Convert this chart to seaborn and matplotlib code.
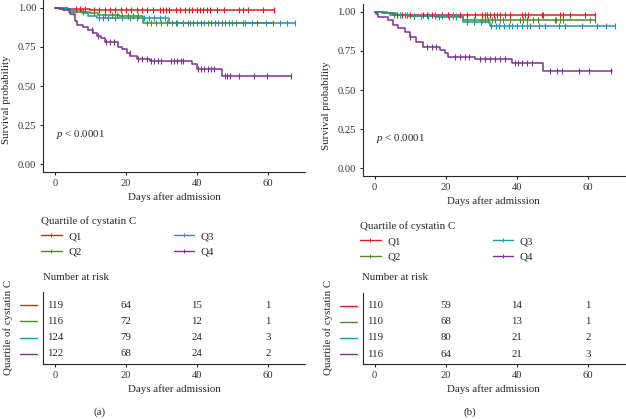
import numpy as np
import pandas as pd
import matplotlib.pyplot as plt
import seaborn as sns
from matplotlib.lines import Line2D

groups = ["Q1", "Q2", "Q3", "Q4"]
colors = ["#E41A1C", "#4D8B2A", "#1B98AE", "#7B3294"]
risk_times = [0, 20, 40, 60]

# ---- panel (a): step times, survival after each step, censor times, last day ----
a_times = {
    "Q1": [3.7, 9.9],
    "Q2": [2.0, 4.0, 10.0, 12.0, 18.0, 24.9],
    "Q3": [2.0, 4.5, 7.5, 9.3, 11.7, 32.0],
    "Q4": [1.0, 2.3, 4.2, 5.6, 6.1, 8.0, 9.4, 10.7, 11.7, 13.1, 14.1, 17.8,
           18.8, 20.2, 21.1, 23.0, 26.8, 38.5, 40.0, 47.0],
}
a_surv = {
    "Q1": [0.991, 0.983],
    "Q2": [0.991, 0.974, 0.965, 0.956, 0.947, 0.905],
    "Q3": [0.992, 0.983, 0.966, 0.950, 0.937, 0.905],
    "Q4": [0.990, 0.984, 0.960, 0.918, 0.890, 0.876, 0.855, 0.836, 0.820, 0.807,
           0.783, 0.752, 0.737, 0.710, 0.690, 0.675, 0.662, 0.641, 0.611, 0.566],
}
a_end = {"Q1": 61.7, "Q2": 61.3, "Q3": 67.6, "Q4": 66.5}
a_cens = {
    "Q1": [6, 7, 8.5, 11, 12.5, 14, 15.5, 17, 18.5, 20, 21.5, 23, 24.5, 26, 27.5,
           29.5, 30.5, 31.2, 32, 34, 35.3, 36.7, 37.7, 38.6, 40, 40.8, 41.8, 42.7,
           43.7, 45.6, 47.5, 51.7, 53.1, 54.5, 58.7, 61.7],
    "Q2": [5, 8, 11, 14, 16, 17.5, 19, 20.5, 22, 23.5, 26, 27, 28.5, 30, 31.5, 33,
           34.5, 36, 37.5, 39, 41, 43, 45, 47, 49, 51, 53, 57, 61.3],
    "Q3": [12.5, 13.5, 15, 17, 19, 21, 23, 25, 26.5, 28, 29.5, 31, 34, 36, 38, 40,
           42, 44, 46, 48, 50, 53.5, 55.5, 59.5, 63.5, 65.5, 67.6],
    "Q4": [10.5, 12, 14.5, 15.5, 16.5, 21, 23.5, 24.5, 26, 27, 28, 29, 30, 32.6,
           33.5, 34.5, 35.4, 36.2, 40.2, 41.2, 42.1, 43, 44, 44.9, 47.8, 48.6,
           49.4, 51.7, 56, 59.7, 66.5],
}
a_risk = {"Q1": [119, 64, 15, 1], "Q2": [116, 72, 12, 1],
          "Q3": [124, 79, 24, 3], "Q4": [122, 68, 24, 2]}

# ---- panel (b) ----
b_times = {
    "Q1": [2.5, 5.2],
    "Q2": [2.0, 4.3, 9.0, 17.0, 24.8],
    "Q3": [3.5, 6.0, 10.0, 24.8, 32.3],
    "Q4": [0.5, 1.0, 3.8, 5.2, 6.6, 8.4, 9.8, 11.7, 13.5, 18.3, 19.7, 20.6,
           28.2, 38.5, 47.4],
}
b_surv = {
    "Q1": [0.991, 0.981],
    "Q2": [0.991, 0.982, 0.973, 0.964, 0.950],
    "Q3": [0.990, 0.981, 0.972, 0.938, 0.912],
    "Q4": [0.987, 0.970, 0.949, 0.917, 0.895, 0.874, 0.842, 0.810, 0.778,
           0.756, 0.735, 0.713, 0.697, 0.673, 0.623],
}
b_end = {"Q1": 61.9, "Q2": 62.0, "Q3": 67.7, "Q4": 66.8}
b_cens = {
    "Q1": [6.2, 7.6, 9, 9.9, 13.7, 14.6, 16, 16.9, 18.8, 20.7, 22.1, 24, 25.9, 28.2,
           30.1, 31, 31.7, 32.4, 33.6, 34.3, 35.3, 36.7, 38.1, 41.4, 42.3, 43.2,
           47, 47.4, 52.1, 53, 54.9, 59.1, 61.9],
    "Q2": [5.5, 7, 8.5, 11, 13, 15, 18, 21, 23, 26, 28, 30.1, 31, 32, 33, 33.9,
           35.3, 36.2, 38.1, 40.9, 41.8, 42.8, 44.6, 46, 50.7, 51.1, 52.1, 53,
           60.5, 62],
    "Q3": [7, 9, 11, 13, 15, 17, 19, 21, 22, 23, 26, 28, 30, 32.6, 34, 35, 36.3,
           37.7, 38.6, 40, 41.4, 42.8, 43.7, 46.1, 47.9, 51.7, 53.5, 58.2, 62.4,
           65.2, 67.7],
    "Q4": [10, 14.6, 16, 17.3, 22.6, 24, 25.4, 26.6, 29.6, 31, 32.4, 33.8, 35.2,
           36.6, 39.5, 40.4, 41.4, 42.8, 44.2, 49.4, 51.3, 52.7, 57.4, 60.2, 66.6],
}
b_risk = {"Q1": [110, 59, 14, 1], "Q2": [110, 68, 13, 1],
          "Q3": [119, 80, 21, 2], "Q4": [116, 64, 21, 3]}

sns.set_style("ticks")
plt.rcParams["font.family"] = ["Liberation Serif", "DejaVu Serif"]
plt.rcParams["mathtext.fontset"] = "custom"
plt.rcParams["mathtext.it"] = "Liberation Serif:italic"
plt.rcParams["mathtext.rm"] = "Liberation Serif"
plt.rcParams["axes.linewidth"] = 0.8
plt.rcParams["xtick.major.width"] = 0.8
plt.rcParams["ytick.major.width"] = 0.8
plt.rcParams["xtick.major.size"] = 2.5
plt.rcParams["ytick.major.size"] = 2.5

FS = 7.6
TICK_C = "#333333"
W, H = 626, 419


def fig_box(left, top, right, bottom):
    return [left / W, 1 - bottom / H, (right - left) / W, (bottom - top) / H]


def km_frame(times, surv, end):
    rows = []
    for g in groups:
        t = [0.0] + times[g] + [end[g]]
        s = [1.0] + surv[g] + [surv[g][-1]]
        for ti, si in zip(t, s):
            rows.append({"group": g, "time": ti, "surv": si})
    return pd.DataFrame(rows)


def draw_panel(fig, main_box, risk_box, times, surv, end, cens, risk,
               ylab_xy, rlab_xy, leg_xy, nar_xy, tag, tag_xy):
    ax = fig.add_axes(main_box)
    df = km_frame(times, surv, end)
    sns.lineplot(data=df, x="time", y="surv", hue="group", palette=colors,
                 drawstyle="steps-post", estimator=None, sort=False,
                 lw=1.1, legend=False, ax=ax)
    for g, c in zip(groups, colors):
        t = np.array([0.0] + times[g])
        s = np.array([1.0] + surv[g])
        ct = np.array(cens[g])
        cs = s[np.searchsorted(t, ct, side="right") - 1]
        ax.scatter(ct, cs, marker="|", s=18, color=c, linewidths=0.8, zorder=3)
    ax.set_xlim(-3.35, 70.35)
    ax.set_ylim(-0.05, 1.05)
    ax.set_xticks(risk_times)
    ax.set_yticks([0, 0.25, 0.5, 0.75, 1.0])
    ax.set_yticklabels(["0.00", "0.25", "0.50", "0.75", "1.00"])
    ax.tick_params(labelsize=FS, labelcolor=TICK_C, pad=2.5)
    ax.set_xlabel("Days after admission", fontsize=7.8, labelpad=3)
    ax.set_ylabel("Survival probability", fontsize=7.8)
    ax.yaxis.set_label_coords(*ylab_xy)
    ax.text(0.3, 0.19, r"$p$ < 0.0001", fontsize=7.8, va="center")
    sns.despine(ax=ax)

    # risk table
    rx = fig.add_axes(risk_box)
    for i, (g, c) in enumerate(zip(groups, colors)):
        for t, n in zip(risk_times, risk[g]):
            rx.text(t, i, str(n), ha="center", va="center", fontsize=7.8)
        rx.plot([-0.087, -0.023], [i, i], color=c, lw=1.0, clip_on=False,
                transform=rx.get_yaxis_transform())
    rx.set_xlim(-3.35, 70.35)
    rx.set_ylim(3.62, -0.8)
    rx.set_xticks(risk_times)
    rx.set_yticks([])
    rx.tick_params(labelsize=FS, labelcolor=TICK_C, pad=2.5)
    rx.set_xlabel("Days after admission", fontsize=7.8, labelpad=3)
    rx.set_ylabel("Quartile of cystatin C", fontsize=7.8)
    rx.yaxis.set_label_coords(*rlab_xy)
    sns.despine(ax=rx)

    handles = [Line2D([], [], color=c, lw=1.0, marker="|", markersize=3.5,
                      markeredgewidth=0.7) for c in colors]
    fig.legend(handles, groups, loc="upper left",
               bbox_to_anchor=(leg_xy[0] / W, 1 - leg_xy[1] / H),
               ncol=2, frameon=False, title="Quartile of cystatin C",
               title_fontsize=7.8, fontsize=7.8, alignment="left",
               borderpad=0, borderaxespad=0, handlelength=1.9,
               handletextpad=0.6, columnspacing=8.5, labelspacing=0.55)
    fig.text(nar_xy[0] / W, 1 - nar_xy[1] / H, "Number at risk",
             fontsize=7.8, va="center", ha="left")
    fig.text(tag_xy[0] / W, 1 - tag_xy[1] / H, tag, fontsize=7.8,
             va="center", ha="center")


fig = plt.figure(figsize=(6.26, 4.19), dpi=100)

draw_panel(fig, fig_box(43.1, 0, 304.7, 172), fig_box(43.1, 292, 304.7, 364),
           a_times, a_surv, a_end, a_cens, a_risk,
           (-0.122, 0.42), (-0.115, 0.51), (41, 216), (43, 277), "(a)", (100, 412))
draw_panel(fig, fig_box(362.8, 4, 624.8, 176), fig_box(362.8, 293, 624.8, 364),
           b_times, b_surv, b_end, b_cens, b_risk,
           (-0.121, 0.41), (-0.114, 0.51), (360, 221), (362, 277), "(b)", (470, 412))

fig.savefig("out.png", dpi=100)
